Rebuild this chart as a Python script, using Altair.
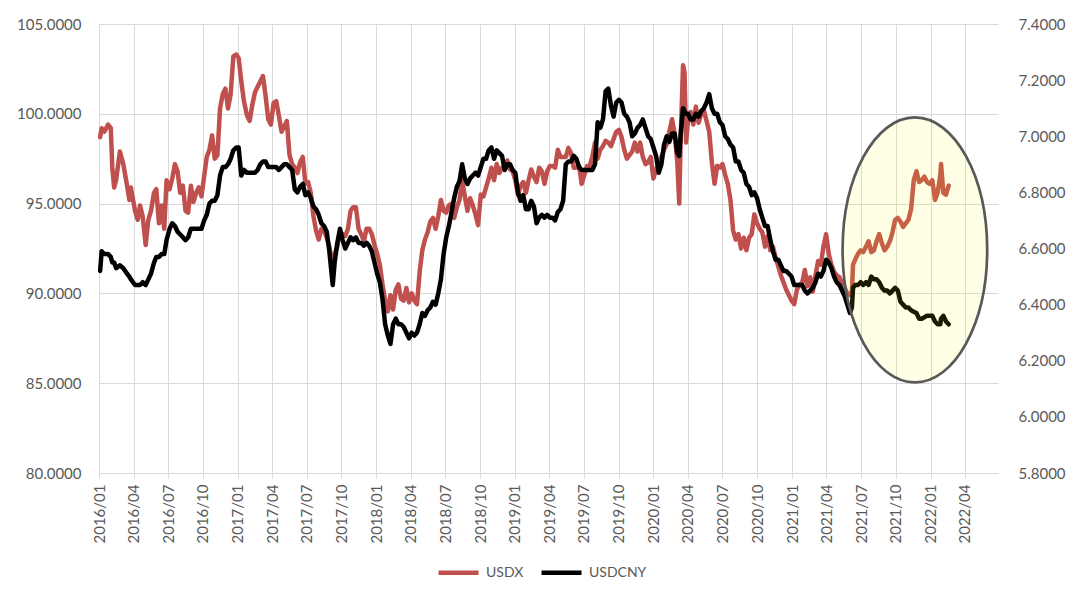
import altair as alt
import pandas as pd

# ---------------- data ----------------
dates = [
    # 2016
    "2016-01-04", "2016-01-08", "2016-01-15", "2016-01-25",
    "2016-02-01", "2016-02-05", "2016-02-10", "2016-02-15", "2016-02-25",
    "2016-03-05", "2016-03-15", "2016-03-21", "2016-03-25",
    "2016-04-05", "2016-04-12", "2016-04-18", "2016-04-25",
    "2016-05-03", "2016-05-10", "2016-05-17", "2016-05-25", "2016-05-31",
    "2016-06-07", "2016-06-14", "2016-06-21", "2016-06-27",
    "2016-07-05", "2016-07-12", "2016-07-19", "2016-07-26",
    "2016-08-02", "2016-08-09", "2016-08-16", "2016-08-23", "2016-08-30",
    "2016-09-06", "2016-09-13", "2016-09-20", "2016-09-27",
    "2016-10-04", "2016-10-11", "2016-10-18", "2016-10-25",
    "2016-11-01", "2016-11-08", "2016-11-15", "2016-11-22", "2016-11-29",
    "2016-12-06", "2016-12-13", "2016-12-20", "2016-12-28",
    # 2017
    "2017-01-03", "2017-01-10", "2017-01-17", "2017-01-25",
    "2017-02-01", "2017-02-08", "2017-02-15", "2017-02-22",
    "2017-03-01", "2017-03-08", "2017-03-15", "2017-03-22", "2017-03-29",
    "2017-04-05", "2017-04-12", "2017-04-19", "2017-04-26",
    "2017-05-03", "2017-05-10", "2017-05-17", "2017-05-24", "2017-05-31",
    "2017-06-07", "2017-06-14", "2017-06-21", "2017-06-28",
    "2017-07-05", "2017-07-12", "2017-07-19", "2017-07-26",
    "2017-08-02", "2017-08-09", "2017-08-16", "2017-08-23", "2017-08-30",
    "2017-09-08", "2017-09-13", "2017-09-20", "2017-09-27",
    "2017-10-04", "2017-10-11", "2017-10-18", "2017-10-25",
    "2017-11-01", "2017-11-08", "2017-11-15", "2017-11-22", "2017-11-29",
    "2017-12-06", "2017-12-13", "2017-12-20", "2017-12-27",
    # 2018
    "2018-01-03", "2018-01-10", "2018-01-17", "2018-01-24", "2018-01-31",
    "2018-02-07", "2018-02-14", "2018-02-21", "2018-02-28",
    "2018-03-07", "2018-03-14", "2018-03-21", "2018-03-28",
    "2018-04-04", "2018-04-11", "2018-04-18", "2018-04-25",
    "2018-05-02", "2018-05-09", "2018-05-16", "2018-05-23", "2018-05-30",
    "2018-06-06", "2018-06-13", "2018-06-20", "2018-06-27",
    "2018-07-04", "2018-07-11", "2018-07-18", "2018-07-25",
    "2018-08-01", "2018-08-08", "2018-08-15", "2018-08-22", "2018-08-29",
    "2018-09-05", "2018-09-12", "2018-09-19", "2018-09-26",
    "2018-10-03", "2018-10-10", "2018-10-17", "2018-10-24", "2018-10-31",
    "2018-11-07", "2018-11-14", "2018-11-21", "2018-11-28",
    "2018-12-05", "2018-12-12", "2018-12-19", "2018-12-26",
    # 2019
    "2019-01-02", "2019-01-09", "2019-01-16", "2019-01-23", "2019-01-30",
    "2019-02-06", "2019-02-13", "2019-02-20", "2019-02-27",
    "2019-03-06", "2019-03-13", "2019-03-20", "2019-03-27",
    "2019-04-03", "2019-04-10", "2019-04-17", "2019-04-24",
    "2019-05-01", "2019-05-08", "2019-05-15", "2019-05-22", "2019-05-29",
    "2019-06-05", "2019-06-12", "2019-06-19", "2019-06-26",
    "2019-07-03", "2019-07-10", "2019-07-17", "2019-07-24", "2019-07-31",
    "2019-08-07", "2019-08-14", "2019-08-21", "2019-08-28",
    "2019-09-04", "2019-09-11", "2019-09-18", "2019-09-25",
    "2019-10-02", "2019-10-09", "2019-10-16", "2019-10-23", "2019-10-30",
    "2019-11-06", "2019-11-13", "2019-11-20", "2019-11-27",
    "2019-12-04", "2019-12-11", "2019-12-18", "2019-12-25",
    # 2020
    "2020-01-01", "2020-01-08", "2020-01-15", "2020-01-22", "2020-01-29",
    "2020-02-05", "2020-02-12", "2020-02-19", "2020-02-26",
    "2020-03-04", "2020-03-09", "2020-03-13", "2020-03-19", "2020-03-23", "2020-03-27",
    "2020-04-01", "2020-04-08", "2020-04-15", "2020-04-22", "2020-04-29",
    "2020-05-06", "2020-05-13", "2020-05-20", "2020-05-27",
    "2020-06-03", "2020-06-10", "2020-06-17", "2020-06-24",
    "2020-07-01", "2020-07-08", "2020-07-15", "2020-07-22", "2020-07-29",
    "2020-08-05", "2020-08-12", "2020-08-19", "2020-08-26",
    "2020-09-02", "2020-09-09", "2020-09-16", "2020-09-23", "2020-09-30",
    "2020-10-07", "2020-10-14", "2020-10-21", "2020-10-28",
    "2020-11-04", "2020-11-11", "2020-11-18", "2020-11-25",
    "2020-12-02", "2020-12-09", "2020-12-16", "2020-12-23", "2020-12-30",
    # 2021
    "2021-01-06", "2021-01-13", "2021-01-20", "2021-01-27",
    "2021-02-03", "2021-02-10", "2021-02-17", "2021-02-24",
    "2021-03-03", "2021-03-10", "2021-03-17", "2021-03-24", "2021-03-31",
    "2021-04-07", "2021-04-14", "2021-04-21", "2021-04-28",
    "2021-05-05", "2021-05-12", "2021-05-19", "2021-05-26",
    "2021-06-02", "2021-06-07", "2021-06-10", "2021-06-16", "2021-06-23", "2021-06-30",
    "2021-07-07", "2021-07-14", "2021-07-21", "2021-07-28",
    "2021-08-04", "2021-08-11", "2021-08-18", "2021-08-25",
    "2021-09-01", "2021-09-08", "2021-09-15", "2021-09-22", "2021-09-29",
    "2021-10-06", "2021-10-13", "2021-10-20", "2021-10-27",
    "2021-11-03", "2021-11-10", "2021-11-17", "2021-11-24",
    "2021-12-01", "2021-12-08", "2021-12-15", "2021-12-22", "2021-12-29",
    # 2022
    "2022-01-05", "2022-01-12", "2022-01-19", "2022-01-26", "2022-01-28",
    "2022-02-03", "2022-02-10", "2022-02-17",
]

usdx = [
    # 2016
    98.7, 99.2, 99.0, 99.4,
    99.2, 97.0, 95.9, 96.3, 97.9,
    97.2, 96.0, 95.2, 95.9,
    94.6, 94.1, 94.9, 94.3,
    92.7, 94.1, 94.6, 95.6, 95.8,
    93.9, 94.9, 93.6, 96.3,
    95.8, 96.4, 97.2, 96.8,
    95.6, 96.0, 94.6, 94.5, 96.0,
    95.1, 95.6, 95.9, 95.4,
    96.5, 97.6, 98.0, 98.8,
    97.5, 97.7, 100.3, 101.1, 101.4,
    100.3, 101.1, 103.2, 103.3,
    # 2017
    103.1, 101.8, 100.7, 99.9,
    99.6, 100.5, 101.2, 101.5,
    101.8, 102.1, 101.0, 99.7, 99.4,
    100.6, 100.7, 99.9, 99.0,
    99.3, 99.6, 97.7, 97.2, 97.0,
    96.7, 97.3, 97.6, 96.1,
    96.2, 95.6, 94.3, 93.5,
    93.0, 93.6, 93.5, 93.1, 92.6,
    91.4, 92.2, 92.6, 93.4,
    93.3, 93.2, 93.6, 94.6,
    94.8, 94.8, 93.6, 93.3, 92.9,
    93.6, 93.6, 93.3, 92.7,
    # 2018
    92.2, 91.6, 90.5, 89.6, 89.0,
    89.9, 89.1, 90.2, 90.5,
    89.7, 89.6, 90.3, 89.5,
    90.0, 89.6, 89.4, 91.2,
    92.4, 93.0, 93.4, 94.0, 94.2,
    93.6, 94.3, 95.2, 94.6,
    94.5, 94.9, 95.0, 94.2,
    94.8, 95.2, 96.3, 95.4, 94.6,
    95.3, 94.9, 94.4, 93.8,
    95.5, 95.4, 95.9, 96.4, 97.0,
    96.3, 97.2, 96.7, 97.0,
    96.9, 97.4, 96.9, 96.8,
    # 2019
    96.3, 95.5, 96.0, 96.2, 95.6,
    96.3, 96.9, 96.5, 96.2,
    97.0, 96.8, 96.1, 96.8,
    97.1, 97.1, 97.0, 98.0,
    97.6, 97.6, 97.6, 98.1, 97.8,
    97.0, 97.0, 97.1, 96.1,
    96.6, 97.1, 97.1, 97.6, 98.4,
    97.5, 98.0, 98.2, 98.5,
    98.4, 98.2, 98.6, 99.0,
    99.1, 98.7, 98.0, 97.5, 97.7,
    97.9, 98.4, 97.9, 98.4,
    97.6, 97.2, 97.3, 97.6,
    # 2020
    96.4, 96.9, 97.2, 97.6, 98.0,
    98.3, 99.0, 99.7, 98.9,
    97.3, 95.0, 98.7, 102.7, 102.3, 98.4,
    99.6, 100.1, 99.4, 100.4, 99.5,
    100.0, 100.2, 99.6, 99.0,
    97.3, 96.1, 97.1, 97.0,
    97.2, 96.6, 96.1, 95.2, 93.5,
    93.0, 93.3, 92.5, 93.1,
    92.4, 93.1, 93.3, 94.4, 93.9,
    93.6, 93.4, 92.6, 93.2,
    92.4, 92.6, 92.0, 91.5,
    91.0, 90.6, 90.2, 89.9, 89.6,
    # 2021
    89.4, 90.2, 90.5, 90.6,
    91.3, 90.4, 90.9, 90.1,
    91.0, 91.8, 91.6, 92.6, 93.3,
    92.2, 91.6, 91.2, 91.0,
    90.9, 90.6, 90.3, 90.0,
    89.9, 90.1, 91.6, 91.9, 92.2, 92.4,
    92.3, 92.6, 92.9, 92.3,
    92.4, 92.9, 93.3, 92.8,
    92.4, 92.6, 92.9, 93.4, 94.1,
    94.2, 94.0, 93.7, 93.9,
    94.1, 94.7, 96.3, 96.8,
    96.2, 96.3, 96.5, 96.2, 96.1,
    # 2022
    96.3, 95.2, 95.6, 96.6, 97.2,
    95.6, 95.5, 96.0,
]

usdcny = [
    # 2016
    6.52, 6.59, 6.58, 6.58,
    6.57, 6.55, 6.55, 6.53, 6.54,
    6.53, 6.51, 6.50, 6.49,
    6.47, 6.47, 6.47, 6.48,
    6.47, 6.49, 6.51, 6.55, 6.57,
    6.57, 6.58, 6.58, 6.63,
    6.67, 6.69, 6.68, 6.66,
    6.65, 6.64, 6.63, 6.64, 6.67,
    6.67, 6.67, 6.67, 6.67,
    6.70, 6.72, 6.76, 6.77,
    6.77, 6.79, 6.86, 6.89, 6.89,
    6.90, 6.92, 6.95, 6.96,
    # 2017
    6.96, 6.86, 6.88, 6.87,
    6.87, 6.87, 6.87, 6.88,
    6.90, 6.91, 6.91, 6.89, 6.89,
    6.89, 6.89, 6.88, 6.89,
    6.90, 6.90, 6.89, 6.88, 6.81,
    6.80, 6.82, 6.83, 6.79,
    6.80, 6.78, 6.75, 6.74,
    6.72, 6.69, 6.68, 6.66, 6.59,
    6.47, 6.55, 6.62, 6.67,
    6.63, 6.60, 6.62, 6.64,
    6.63, 6.64, 6.62, 6.62, 6.61,
    6.62, 6.61, 6.59, 6.55,
    # 2018
    6.51, 6.48, 6.42, 6.33, 6.29,
    6.26, 6.33, 6.35, 6.33,
    6.33, 6.32, 6.30, 6.28,
    6.30, 6.29, 6.30, 6.33,
    6.37, 6.36, 6.38, 6.39, 6.41,
    6.40, 6.44, 6.49, 6.58,
    6.64, 6.68, 6.73, 6.78,
    6.82, 6.84, 6.90, 6.85, 6.83,
    6.85, 6.86, 6.87, 6.86,
    6.89, 6.92, 6.92, 6.95, 6.96,
    6.92, 6.95, 6.94, 6.93,
    6.88, 6.90, 6.90, 6.88,
    # 2019
    6.87, 6.80, 6.77, 6.79, 6.74,
    6.74, 6.77, 6.75, 6.69,
    6.71, 6.72, 6.71, 6.72,
    6.71, 6.71, 6.70, 6.73,
    6.74, 6.77, 6.90, 6.91, 6.91,
    6.93, 6.92, 6.89, 6.88,
    6.88, 6.88, 6.88, 6.88, 6.90,
    7.05, 7.03, 7.06, 7.16,
    7.17, 7.11, 7.07, 7.12,
    7.13, 7.12, 7.08, 7.07, 7.05,
    7.00, 7.01, 7.03, 7.04,
    7.06, 7.03, 7.00, 6.99,
    # 2020
    6.96, 6.93, 6.87, 6.90, 6.97,
    7.00, 6.98, 7.01, 7.01,
    6.94, 6.93, 7.01, 7.10, 7.09, 7.08,
    7.08, 7.06, 7.06, 7.08, 7.07,
    7.09, 7.10, 7.12, 7.15,
    7.10, 7.08, 7.08, 7.05,
    7.04, 7.00, 6.99, 6.97, 6.96,
    6.91, 6.91, 6.88, 6.87,
    6.83, 6.82, 6.79, 6.80, 6.78,
    6.74, 6.71, 6.68, 6.68,
    6.63, 6.59, 6.56, 6.56,
    6.54, 6.52, 6.52, 6.51, 6.50,
    # 2021
    6.47, 6.47, 6.47, 6.47,
    6.45, 6.44, 6.45, 6.46,
    6.48, 6.51, 6.50, 6.52, 6.56,
    6.55, 6.53, 6.50, 6.48,
    6.47, 6.45, 6.43, 6.40,
    6.37, 6.39, 6.46, 6.47, 6.47, 6.48,
    6.47, 6.48, 6.47, 6.50,
    6.49, 6.49, 6.48, 6.46,
    6.45, 6.45, 6.44, 6.45, 6.46,
    6.45, 6.41, 6.40, 6.39,
    6.39, 6.38, 6.375, 6.37,
    6.35, 6.35, 6.355, 6.36, 6.36,
    # 2022
    6.36, 6.34, 6.33, 6.33, 6.35,
    6.36, 6.34, 6.33,
]

assert len(dates) == len(usdx) == len(usdcny)

series_names = ["USDX", "USDCNY"]
series_colors = ["#C0504D", "#000000"]

# tick labels on the date axis (every quarter)
tick_dates = [f"{y}-{m:02d}-01" for y in range(2016, 2023) for m in (1, 4, 7, 10)
              if (y, m) <= (2022, 4)]
left_ticks = [80, 85, 90, 95, 100, 105]
right_ticks = [5.8, 6.0, 6.2, 6.4, 6.6, 6.8, 7.0, 7.2, 7.4]

# highlight ellipse (annotation), centre given in data units (date, USDCNY)
ellipse_date = ["2021-11-20"]
ellipse_value = [6.595]

# ---------------- build chart ----------------
n = len(dates)
df = pd.DataFrame({
    "date": dates + dates,
    "series": ["USDX"] * n + ["USDCNY"] * n,
    "value": usdx + usdcny,
})
ell_df = pd.DataFrame({"date": ellipse_date, "value": ellipse_value})


def dt(s):
    return alt.DateTime(year=int(s[:4]), month=int(s[5:7]), date=int(s[8:10]), utc=True)


FONT = "Lato"
GRID = "#D9D9D9"
TXT = "#595959"

x_enc = alt.X(
    "date:T",
    scale=alt.Scale(type="utc", domain=[dt("2016-01-01"), dt("2022-06-27")], nice=False),
    axis=alt.Axis(
        values=[dt(s) for s in tick_dates], format="%Y/%m", labelAngle=270,
        labelAlign="right", labelBaseline="middle", ticks=True, tickSize=5,
        tickColor=GRID, labelPadding=6, grid=True, gridColor=GRID, domain=False,
        title=None, labelFont=FONT, labelFontSize=15, labelColor=TXT,
    ),
)

y_left = alt.Y(
    "value:Q",
    scale=alt.Scale(domain=[80, 105], nice=False, zero=False),
    axis=alt.Axis(orient="left", values=left_ticks, format=".4f", grid=True,
                  gridColor=GRID, ticks=False, domain=False, labelPadding=18,
                  title=None, labelFont=FONT, labelFontSize=15, labelColor=TXT),
)

y_right = alt.Y(
    "value:Q",
    scale=alt.Scale(domain=[5.8, 7.4], nice=False, zero=False),
    axis=alt.Axis(orient="right", values=right_ticks, format=".4f", grid=False,
                  ticks=False, domain=False, labelPadding=20, title=None,
                  labelFont=FONT, labelFontSize=15, labelColor=TXT),
)

color_enc = alt.Color(
    "series:N",
    scale=alt.Scale(domain=series_names, range=series_colors),
    legend=alt.Legend(title=None),
)

base = alt.Chart(df)

usdx_line = base.transform_filter(alt.datum.series == "USDX").mark_line(
    strokeWidth=4.5, strokeJoin="round", strokeCap="round"
).encode(x=x_enc, y=y_left, color=color_enc)

cny_line = base.transform_filter(alt.datum.series == "USDCNY").mark_line(
    strokeWidth=4.5, strokeJoin="round", strokeCap="round"
).encode(x=x_enc, y=y_right, color=color_enc)

k = 0.5523
a = 0.5457
ak = round(a * k, 4)
ellipse_path = (
    f"M 0 -1 C {ak} -1 {a} -{k} {a} 0 "
    f"C {a} {k} {ak} 1 0 1 "
    f"C -{ak} 1 -{a} {k} -{a} 0 "
    f"C -{a} -{k} -{ak} -1 0 -1 Z"
)

ellipse = alt.Chart(ell_df).mark_point(
    shape=ellipse_path, size=265 * 265, filled=True, fill="#FFFF00",
    fillOpacity=0.1, stroke="#595959", strokeWidth=2.7, strokeOpacity=1, opacity=1,
).encode(x=x_enc, y=y_right)

chart = alt.layer(
    usdx_line,
    alt.layer(cny_line, ellipse),
).resolve_scale(
    y="independent"
).properties(
    width=899, height=449,
    autosize=alt.AutoSizeParams(type="none"),
    padding={"left": 91, "top": 16, "right": 74, "bottom": 116},
).configure_view(
    stroke=None
).configure_legend(
    orient="none", legendX=337, legendY=526, direction="horizontal",
    labelFont=FONT, labelFontSize=14, labelColor=TXT,
    symbolType="stroke", symbolSize=1600, symbolStrokeWidth=4.5,
    labelOffset=5, columnPadding=8, padding=0,
)

chart.save("out.html", embed_options={"renderer": "svg", "actions": False})
